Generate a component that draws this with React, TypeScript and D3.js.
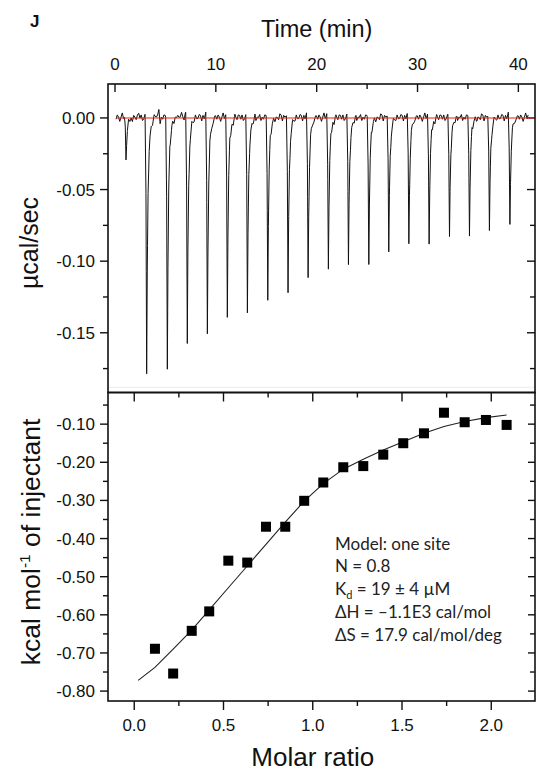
import React from "react";
import * as d3 from "d3";

// ---------- DATA ----------
// Raw thermogram: injection peak times (min) and peak heights (µcal/sec)
const injTimes = [1.09, 3.14, 5.19, 7.17, 9.16, 11.14, 13.13, 15.15, 17.16, 19.15, 21.16, 23.15, 25.17, 27.15, 29.14, 31.15, 33.17, 35.15, 37.13, 39.16];
const injPeaks = [-0.028, -0.1775, -0.174, -0.1576, -0.1499, -0.1366, -0.1347, -0.1249, -0.1218, -0.1109, -0.1034, -0.1015, -0.1004, -0.0929, -0.0875, -0.0857, -0.0824, -0.0801, -0.0773, -0.0735];
// Baseline noise (µcal/sec), one value per 0.125 min, repeating
const baselineNoise = [0.0015, -0.0015, 0.003, 0.0, -0.003, 0.0015, 0.004, -0.0015, 0.003, -0.003, 0.0, 0.003, -0.0015, 0.0015, -0.003, 0.003, 0.0, -0.0015, 0.003, 0.0015, -0.0015, 0.003, -0.003, 0.0, 0.003, -0.0015, 0.0015, -0.003, 0.004, 0.0, -0.0015, 0.003, -0.003, 0.0015, 0.0, 0.003, -0.003, 0.0015, -0.0015, 0.003, 0.0015, -0.003, 0.0, 0.004, -0.0015, 0.0015, 0.003, -0.003, 0.0015, 0.0, -0.0015, 0.004, 0.0015, -0.003, 0.003, 0.0, 0.0015, -0.0015, 0.003, -0.003, 0.0015, 0.004, 0.0, -0.0015, 0.003, -0.0015, 0.0, 0.003, 0.0015, -0.003, 0.003, -0.0015, 0.004, 0.0, -0.003, 0.0015, 0.003, -0.0015, 0.0, 0.0015];
// Larger excursions near the start of the run [time, value]
const artifactTimes = [2.4, 4.0, 4.3, 4.5, 6.2, 6.4, 6.6, 6.8, 7.0];
const artifactValues = [0.003, 0.004, 0.007, -0.003, 0.004, -0.005, 0.006, -0.004, 0.003];
const traceStart = 0.1;
const traceEnd = 41.0;

// Integrated heats
const molarRatio = [0.116, 0.218, 0.322, 0.42, 0.527, 0.633, 0.738, 0.846, 0.952, 1.059, 1.171, 1.283, 1.395, 1.507, 1.623, 1.735, 1.851, 1.97, 2.086];
const heats = [-0.689, -0.754, -0.642, -0.591, -0.458, -0.463, -0.369, -0.369, -0.301, -0.253, -0.213, -0.21, -0.18, -0.15, -0.124, -0.07, -0.095, -0.089, -0.102];
// One-site fit curve
const fitX = [0.022, 0.116, 0.218, 0.322, 0.42, 0.527, 0.633, 0.738, 0.846, 0.952, 1.059, 1.171, 1.283, 1.395, 1.507, 1.623, 1.735, 1.851, 1.97, 2.086];
const fitY = [-0.772, -0.738, -0.69, -0.64, -0.587, -0.529, -0.472, -0.415, -0.357, -0.302, -0.256, -0.218, -0.192, -0.168, -0.146, -0.124, -0.106, -0.093, -0.083, -0.076];

// Ticks
const timeMajor = [0, 10, 20, 30, 40];
const timeMinor = [5, 15, 25, 35];
const powerMajor = [0, -0.05, -0.1, -0.15];
const powerMinor = [-0.025, -0.075, -0.125, -0.175];
const ratioMajor = [0, 0.5, 1.0, 1.5, 2.0];
const ratioMinor = [0.25, 0.75, 1.25, 1.75];
const heatMajor = [-0.1, -0.2, -0.3, -0.4, -0.5, -0.6, -0.7, -0.8];
const heatMinor = [-0.05, -0.15, -0.25, -0.35, -0.45, -0.55, -0.65, -0.75];

const annotation = ["Model: one site", "N = 0.8", "Kd", "\u0394H = \u20131.1E3 cal/mol", "\u0394S = 17.9 cal/mol/deg"];

// Spike shape (offset from peak in min, fraction of peak)
const spikeOffsets = [-0.16, -0.07, 0, 0.06, 0.14, 0.25, 0.45, 0.75];
const spikeFractions = [0, 0.3, 1, 0.6, 0.3, 0.12, 0.04, 0];

// ---------- LAYOUT ----------
const W = 537, H = 774;
const L = 108, R = 535;
const T1 = 84, B1 = 392.5, B2 = 701;
const AX = "Liberation Sans, Arial, sans-serif";

export default function App() {
  const xT = d3.scaleLinear().domain([-0.694, 41.65]).range([L, R]);
  const yT = d3.scaleLinear().domain([-0.1917, 0.0237]).range([B1, T1]);
  const xM = d3.scaleLinear().domain([-0.147, 2.245]).range([L, R]);
  const yM = d3.scaleLinear().domain([-0.826, -0.017]).range([B2, B1]);

  // build trace
  const step = 0.125;
  const noiseAt = (t: number) => {
    const i = Math.floor(t / step);
    const f = t / step - i;
    const a = baselineNoise[i % baselineNoise.length];
    const b = baselineNoise[(i + 1) % baselineNoise.length];
    let v = a + (b - a) * f;
    artifactTimes.forEach((at, k) => {
      const d = Math.abs(t - at);
      if (d < 0.1) v += artifactValues[k] * (1 - d / 0.1);
    });
    return v;
  };
  const spikeAt = (t: number) => {
    let v = 0;
    injTimes.forEach((tp, k) => {
      const dt = t - tp;
      if (dt <= spikeOffsets[0] || dt >= spikeOffsets[spikeOffsets.length - 1]) return;
      for (let j = 0; j < spikeOffsets.length - 1; j++) {
        if (dt >= spikeOffsets[j] && dt <= spikeOffsets[j + 1]) {
          const f = (dt - spikeOffsets[j]) / (spikeOffsets[j + 1] - spikeOffsets[j]);
          v += injPeaks[k] * (spikeFractions[j] + (spikeFractions[j + 1] - spikeFractions[j]) * f);
          break;
        }
      }
    });
    return v;
  };
  const ts: number[] = [];
  for (let t = traceStart; t <= traceEnd + 1e-9; t += step) ts.push(+t.toFixed(4));
  injTimes.forEach((tp) => spikeOffsets.forEach((o) => ts.push(tp + o)));
  ts.sort((a, b) => a - b);
  const trace = ts.filter((t) => t >= traceStart && t <= traceEnd).map((t) => [t, noiseAt(t) + spikeAt(t)] as [number, number]);

  const traceLine = d3.line<[number, number]>().x((d) => xT(d[0])).y((d) => yT(d[1]));
  const fitLine = d3.line<number>().x((_, i) => xM(fitX[i])).y((d) => yM(d));

  const tickColor = "#111";
  const sw = 1.4;

  return (
    <svg width={W} height={H} style={{ position: "absolute", left: 0, top: 0, background: "#fff" }} fontFamily={AX}>
      <rect x={0} y={0} width={W} height={H} fill="#fff" />
      {/* panel label */}
      <text x={30} y={27} fontSize={17} fontWeight="bold" fill="#111">J</text>

      {/* ---------- TOP PANEL ---------- */}
      <text x={(xT(0) + xT(40)) / 2} y={37} fontSize={23.5} textAnchor="middle" fill="#111">Time (min)</text>
      {timeMajor.map((t) => (
        <g key={"tm" + t}>
          <line x1={xT(t)} x2={xT(t)} y1={T1} y2={T1 + 8} stroke={tickColor} strokeWidth={sw} />
          <text x={xT(t)} y={70} fontSize={17} textAnchor="middle" fill="#111">{t}</text>
        </g>
      ))}
      {timeMinor.map((t) => (
        <line key={"tn" + t} x1={xT(t)} x2={xT(t)} y1={T1} y2={T1 + 5} stroke={tickColor} strokeWidth={sw} />
      ))}
      {powerMajor.map((v) => (
        <g key={"pm" + v}>
          <line x1={L - 8} x2={L} y1={yT(v)} y2={yT(v)} stroke={tickColor} strokeWidth={sw} />
          <line x1={R - 8} x2={R} y1={yT(v)} y2={yT(v)} stroke={tickColor} strokeWidth={sw} />
          <text x={L - 13} y={yT(v) + 6} fontSize={17} textAnchor="end" fill="#111">{v === 0 ? "0.00" : d3.format(".2f")(v).replace("\u2212", "-")}</text>
        </g>
      ))}
      {powerMinor.map((v) => (
        <g key={"pn" + v}>
          <line x1={L - 5} x2={L} y1={yT(v)} y2={yT(v)} stroke={tickColor} strokeWidth={sw} />
          <line x1={R - 5} x2={R} y1={yT(v)} y2={yT(v)} stroke={tickColor} strokeWidth={sw} />
        </g>
      ))}
      <text transform={`translate(38,${243}) rotate(-90)`} fontSize={25} textAnchor="middle" fill="#111">µcal/sec</text>

      <path d={traceLine(trace) || ""} fill="none" stroke="#111" strokeWidth={1} strokeLinejoin="round" />
      <line x1={xT(traceStart)} x2={R} y1={yT(0)} y2={yT(0)} stroke="#e8221c" strokeWidth={1.1} />
      <line x1={L} x2={R} y1={387.3} y2={387.3} stroke="#ececec" strokeWidth={1} />
      <rect x={L} y={T1} width={R - L} height={B1 - T1} fill="none" stroke="#111" strokeWidth={1.6} />

      {/* ---------- BOTTOM PANEL ---------- */}
      {ratioMajor.map((v) => (
        <g key={"rm" + v}>
          <line x1={xM(v)} x2={xM(v)} y1={B2} y2={B2 + 9} stroke={tickColor} strokeWidth={sw} />
          <line x1={xM(v)} x2={xM(v)} y1={B1} y2={B1 + 9} stroke={tickColor} strokeWidth={sw} />
          <text x={xM(v)} y={731} fontSize={17} textAnchor="middle" fill="#111">{d3.format(".1f")(v)}</text>
        </g>
      ))}
      {ratioMinor.map((v) => (
        <g key={"rn" + v}>
          <line x1={xM(v)} x2={xM(v)} y1={B2} y2={B2 + 5} stroke={tickColor} strokeWidth={sw} />
          <line x1={xM(v)} x2={xM(v)} y1={B1} y2={B1 + 5} stroke={tickColor} strokeWidth={sw} />
        </g>
      ))}
      {heatMajor.map((v) => (
        <g key={"hm" + v}>
          <line x1={L - 8} x2={L} y1={yM(v)} y2={yM(v)} stroke={tickColor} strokeWidth={sw} />
          <line x1={R - 7} x2={R} y1={yM(v)} y2={yM(v)} stroke={tickColor} strokeWidth={sw} />
          <text x={L - 13} y={yM(v) + 6} fontSize={17} textAnchor="end" fill="#111">{d3.format(".2f")(v).replace("\u2212", "-")}</text>
        </g>
      ))}
      {heatMinor.map((v) => (
        <g key={"hn" + v}>
          <line x1={L - 5} x2={L} y1={yM(v)} y2={yM(v)} stroke={tickColor} strokeWidth={sw} />
          <line x1={R - 5} x2={R} y1={yM(v)} y2={yM(v)} stroke={tickColor} strokeWidth={sw} />
        </g>
      ))}
      <text transform={`translate(40,${542}) rotate(-90)`} fontSize={26.5} textAnchor="middle" fill="#111">
        kcal mol<tspan fontSize={15.5} dy={-10.5}>-1</tspan><tspan dy={10.5}> of injectant</tspan>
      </text>
      <text x={(xM(0) + xM(2)) / 2} y={766} fontSize={26} textAnchor="middle" fill="#111">Molar ratio</text>

      <path d={fitLine(fitY) || ""} fill="none" stroke="#222" strokeWidth={1.1} />
      {molarRatio.map((m, i) => (
        <rect key={"pt" + i} x={xM(m) - 5} y={yM(heats[i]) - 5} width={10} height={10} fill="#000" />
      ))}
      <rect x={L} y={B1} width={R - L} height={B2 - B1} fill="none" stroke="#111" strokeWidth={1.6} />

      {/* annotation */}
      <g fontFamily="Lato, 'Open Sans', sans-serif" fontSize={17} fill="#222">
        <text x={335} y={549.5}>{annotation[0]}</text>
        <text x={335} y={572.3}>{annotation[1]}</text>
        <text x={335} y={595.1}>K<tspan fontSize={11} dy={4}>d</tspan><tspan dy={-4}> = 19 ± 4 µM</tspan></text>
        <text x={335} y={617.9}>{annotation[3]}</text>
        <text x={335} y={640.7}>{annotation[4]}</text>
      </g>
    </svg>
  );
}
